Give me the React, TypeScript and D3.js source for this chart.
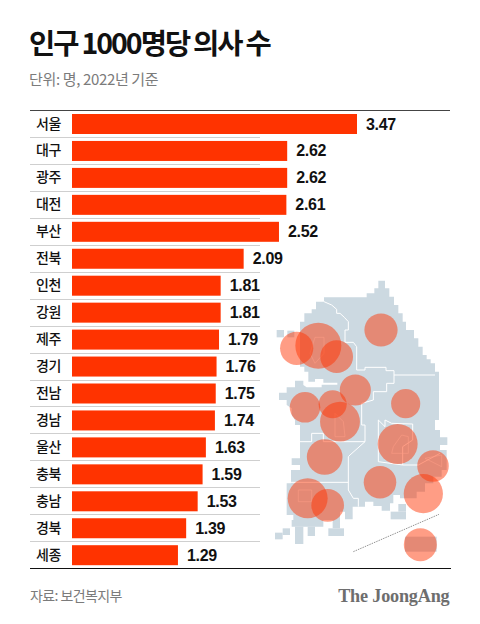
import React from "react";
import * as d3 from "d3";

const regions = ["서울","대구","광주","대전","부산","전북","인천","강원","제주","경기","전남","경남","울산","충북","충남","경북","세종"];
const doctors = [3.47,2.62,2.62,2.61,2.52,2.09,1.81,1.81,1.79,1.76,1.75,1.74,1.63,1.59,1.53,1.39,1.29];
const valueLabels = ["3.47","2.62","2.62","2.61","2.52","2.09","1.81","1.81","1.79","1.76","1.75","1.74","1.63","1.59","1.53","1.39","1.29"];

// bubble centres in map units (one unit = a third of a pixel)
const bubbleCenters: Record<string,[number,number]> = {
  서울:[175,197], 인천:[110,205], 경기:[230,230], 강원:[363,150],
  세종:[218,373], 충북:[286,330], 충남:[135,382], 경북:[437,371],
  대전:[240,425], 대구:[413,492], 울산:[519,558], 부산:[490,641],
  전북:[194,531], 경남:[360,607], 광주:[143,655], 전남:[203,676], 제주:[481,794],
};

const mainland: [number,number][] = [
  [355,2],[375,2],[375,25],[388,25],[388,50],[402,50],[402,75],[415,75],[415,100],[428,100],[428,125],[438,125],[438,150],[462,150],[462,175],[475,175],[475,200],[488,200],[488,225],[500,225],[500,238],[512,238],[512,250],[525,250],[525,275],[537,275],[537,420],[525,420],[525,450],[540,450],[540,472],[562,472],[562,495],[540,495],[540,510],[560,510],[560,570],[545,570],[545,590],[520,590],[520,610],[495,610],[495,635],[470,635],[470,655],[420,655],[420,645],[400,645],[400,670],[390,670],[390,692],[365,692],[365,678],[340,678],[340,665],[315,665],[315,680],[278,680],[278,718],[255,718],[255,695],[240,695],[240,720],[190,720],[190,740],[95,740],[95,720],[100,720],[100,705],[80,705],[80,610],[93,610],[93,570],[120,570],[120,555],[95,555],[95,535],[120,535],[120,435],[105,435],[105,420],[95,405],[95,385],[80,375],[80,360],[57,360],[57,338],[80,338],[80,322],[105,322],[105,302],[130,302],[130,315],[140,322],[185,322],[185,314],[232,314],[232,308],[190,308],[190,297],[165,297],[165,305],[145,305],[145,275],[133,275],[133,260],[120,260],[120,125],[133,125],[133,100],[155,100],[155,88],[168,88],[168,65],[192,65],[192,52],[320,52],[320,40],[343,40],[343,25],[355,25],
];
const islands: [number,number,number,number][] = [
  [50,150,72,172],[82,152,103,172],
  [392,695,438,718],[415,672,438,695],
  [218,720,240,745],[205,745,252,768],[143,740,165,768],[105,740,130,792],
  [68,745,90,765],[45,758,68,778],
  [435,770,530,815],
];
const borders: [number,number][][] = [
  [[192,65],[215,75],[230,88],[230,100],[240,100],[253,112],[265,125],[265,150],[255,150],[255,187],[280,187],[290,200],[290,270],[315,270],[315,262],[378,262],[378,272],[402,272],[402,285],[525,285]],
  [[402,285],[402,310],[380,310],[380,335],[340,335],[340,360],[305,370],[305,435],[315,435],[315,485],[190,485],[190,460],[155,460],[155,485],[120,485]],
  [[315,485],[270,525],[265,530],[265,630],[280,655],[295,655],[295,680]],
  [[90,607],[265,607]],
  [[355,420],[375,440],[375,420],[395,430],[458,432],[458,480],[428,500],[428,555],[475,555],[540,520]],
  [[355,420],[355,545],[428,555]],
];
const innerLines: [number,number][][] = [
  [[165,172],[192,172],[192,220],[165,250],[150,220],[165,172]],
  [[115,630],[155,630],[155,665],[115,665],[115,630]],
  [[225,400],[250,425],[255,470],[225,470],[225,400]],
  [[395,520],[400,500],[425,465],[445,470],[445,520],[395,520]],
  [[495,535],[545,525],[545,560],[495,535]],
];
const dashedLine: [number,number][] = [[280,815],[537,703]];

const rowH = 26.95;
const firstTop = 111;
const x = d3.scaleLinear().domain([0, 3.47]).range([72, 357]);
const y = d3.scaleBand<string>().domain(regions).range([firstTop, firstTop + rowH * regions.length]);
const mx = d3.scaleLinear().domain([0, 3]).range([260, 261]);
const my = d3.scaleLinear().domain([0, 3]).range([280, 281]);
const r = d3.scaleSqrt().domain([0, 3.47]).range([0, 23]);
const path = d3.line<[number,number]>().x(d => mx(d[0])).y(d => my(d[1]));

const KR = "'Noto Sans CJK KR', sans-serif";

export default function App() {
  return (
    <svg width={480} height={624} style={{ position: "absolute", left: 0, top: 0, background: "#fff" }}>
      <text x={29} y={54} fontFamily={KR} fontWeight={700} fontSize={28.5} letterSpacing={-2} wordSpacing={-0.5} fill="#111">인구 1000명당 의사 수</text>
      <text x={29} y={85} fontFamily={KR} fontSize={15} letterSpacing={-0.35} fill="#7b7b7b">단위: 명, 2022년 기준</text>

      <path d={path(mainland) + "Z"} fill="#ccd9e1" />
      {islands.map((b, i) => (
        <rect key={i} x={mx(b[0])} y={my(b[1])} width={mx(b[2]) - mx(b[0])} height={my(b[3]) - my(b[1])} fill="#ccd9e1" />
      ))}
      {borders.map((l, i) => <path key={i} d={path(l) ?? ""} fill="none" stroke="#fff" strokeWidth={1} />)}
      {innerLines.map((l, i) => <path key={i} d={path(l) ?? ""} fill="none" stroke="#fff" strokeWidth={1} strokeOpacity={0.5} />)}
      <path d={path(dashedLine) ?? ""} fill="none" stroke="#777" strokeWidth={0.8} strokeDasharray="1.5 1" />
      {regions.map((name, i) => {
        const c = bubbleCenters[name];
        return <circle key={name} cx={mx(c[0])} cy={my(c[1])} r={r(doctors[i])} fill="#ff3300" fillOpacity={0.48} />;
      })}

      {regions.slice(1).map(name => (
        <line key={name} x1={30} x2={260} y1={Math.round(y(name) ?? 0) - 0.5} y2={Math.round(y(name) ?? 0) - 0.5} stroke="#cfcfcf" strokeWidth={1} />
      ))}
      <line x1={30} x2={450} y1={110.5} y2={110.5} stroke="#444" strokeWidth={1} />
      <line x1={30} x2={451} y1={568.5} y2={568.5} stroke="#111" strokeWidth={1} />

      {regions.map((name, i) => {
        const top = y(name) ?? 0;
        return (
          <g key={name}>
            <text x={36} y={top + 17.5} fontFamily={KR} fontSize={14} fontWeight={500} letterSpacing={-0.3} fill="#111">{name}</text>
            <rect x={x(0)} y={top + 3} width={x(doctors[i]) - x(0)} height={20} fill="#ff3300" />
            <text x={x(doctors[i]) + 9} y={top + 18.5} fontFamily="'Liberation Sans', sans-serif" fontWeight={700} fontSize={16} letterSpacing={-0.3} fill="#111">{valueLabels[i]}</text>
          </g>
        );
      })}

      <text x={30} y={601} fontFamily={KR} fontSize={14} letterSpacing={-0.6} fill="#7b7b7b">자료: 보건복지부</text>
      <text x={449.5} y={602} textAnchor="end" fontFamily="'Liberation Serif', serif" fontWeight={700} fontSize={18.2} letterSpacing={-0.2} fill="#6e6e6e">The JoongAng</text>
    </svg>
  );
}
